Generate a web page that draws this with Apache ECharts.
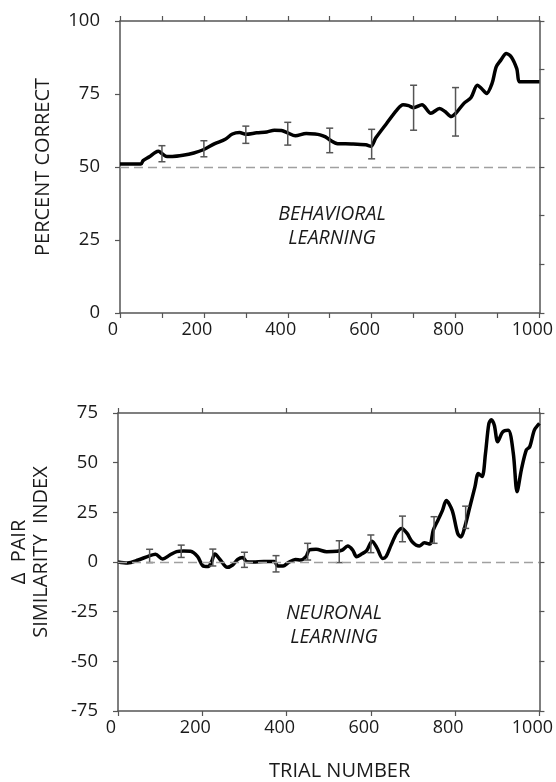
<!DOCTYPE html>
<html>
<head>
    <meta charset="UTF-8">
    <title>Behavioral and neuronal learning</title>
    <style>
        html, body { margin: 0; padding: 0; background: #fff; }
    </style>
</head>
<body>
<div id="main" style="width: 556px;height: 782px;"></div>
<script src="https://cdn.jsdelivr.net/npm/echarts@6/dist/echarts.min.js"></script>
<script>
    // behavioral learning curve (percent correct)
    var behavTrials = [0, 50, 55, 70, 84, 92, 100, 112, 125, 150, 176, 200, 226, 251, 268, 285, 300, 326, 350, 368,
        385, 400, 418, 444, 465, 477, 490, 500, 519, 552, 586, 598, 610, 636, 660, 675, 688, 700, 720, 741,
        762, 775, 790, 800, 820, 837, 852, 862, 874, 887, 897, 908, 921, 933, 946, 954, 1000];
    var behavValues = [51, 51, 52.2, 53.5, 55, 55.4, 54.6, 53.6, 53.6, 54, 54.8, 56, 58, 59.5, 61.3, 61.8, 61.2, 61.7, 62, 62.6,
        62.5, 61.7, 60.7, 61.5, 61.3, 61, 60.3, 59.3, 58, 57.9, 57.6, 57.1, 60, 65, 69.5, 71.3, 71, 70.3, 71.3, 68.4,
        70, 69, 67.3, 68.3, 71.8, 73.8, 78, 76.9, 75.2, 78.6, 84.3, 86.6, 88.9, 87.7, 83.7, 79.2, 79.2];
    var behavErrTrials = [100, 200, 300, 400, 500, 600, 700, 800];
    var behavErrLow = [51.8, 53.5, 58.1, 57.5, 54.9, 52.8, 62.6, 60.6];
    var behavErrHigh = [57.3, 59, 64, 65.3, 63.3, 62.9, 78, 77.2];

    // neuronal learning curve (delta pair similarity index)
    var neurTrials = [0, 23, 48, 73, 89, 106, 123, 139, 156, 172, 189, 201, 214, 222, 230, 243, 259, 272, 284, 296,
        305, 321, 346, 371, 379, 392, 404, 421, 433, 446, 454, 470, 495, 520, 532, 545, 557, 566, 578, 590,
        603, 615, 628, 636, 648, 661, 673, 686, 698, 715, 727, 740, 748, 760, 770, 779, 793, 806, 814, 822,
        835, 847, 855, 864, 872, 880, 886, 893, 901, 913, 926, 938, 947, 957, 969, 977, 988, 1000];
    var neurValues = [0, -0.5, 1, 3, 3.9, 1.5, 3.5, 5.2, 5.5, 5.4, 2.7, -1.8, -2.3, 0.2, 4, 1, -2.7, -1.5, 1.3, 2.3,
        0.2, 0, 0.3, 0.3, -2, -2, -0.3, 1.3, 1, 2.7, 6, 6.4, 5.2, 5.4, 6, 8, 6, 2.7, 4, 5.7,
        10.5, 6.9, 1.8, 2.7, 8.5, 14.4, 16.9, 14.4, 10.2, 8, 9.7, 9, 16, 21.4, 26, 30.9, 26, 14.4, 12.6, 16.9,
        27.8, 37.8, 44.5, 43, 54.6, 69.6, 71.6, 68.8, 60.5, 65.5, 66.3, 54.8, 35.4, 46.3, 56.4, 58, 66.4, 69.8];
    var neurErrTrials = [75, 150, 225, 300, 375, 450, 525, 600, 675, 750, 825];
    var neurErrLow = [-0.3, 2.3, -2, -2.7, -5, 1, -0.3, 4.7, 10.2, 9.4, 16.9];
    var neurErrHigh = [6.4, 8.5, 6.5, 4.9, 3.2, 9.4, 10.7, 13.6, 23.1, 22.8, 28.1];

    var xTickLabels = [0, 200, 400, 600, 800, 1000];

    var FONT = 'Open Sans';
    var AXIS_COLOR = '#555';
    var TEXT_COLOR = '#1a1a1a';

    function zip(a, b, c) {
        return a.map(function (v, i) { return c ? [v, b[i], c[i]] : [v, b[i]]; });
    }

    function errorBars(params, api) {
        var x = api.value(0);
        var lo = api.coord([x, api.value(1)]);
        var hi = api.coord([x, api.value(2)]);
        var cap = 3.5;
        var style = { stroke: '#555', lineWidth: 1.5 };
        return {
            type: 'group',
            children: [
                { type: 'line', shape: { x1: lo[0], y1: lo[1], x2: hi[0], y2: hi[1] }, style: style },
                { type: 'line', shape: { x1: lo[0] - cap, y1: lo[1], x2: lo[0] + cap, y2: lo[1] }, style: style },
                { type: 'line', shape: { x1: hi[0] - cap, y1: hi[1], x2: hi[0] + cap, y2: hi[1] }, style: style }
            ]
        };
    }

    function xAxisPair(grid, interval, withName) {
        var common = {
            type: 'value', gridIndex: grid, min: 0, max: 1000, interval: interval,
            axisLine: { onZero: false, lineStyle: { color: AXIS_COLOR, width: 1.5 } },
            axisTick: { length: 5, lineStyle: { color: AXIS_COLOR, width: 1.2 } },
            splitLine: { show: false }
        };
        var bottom = Object.assign({}, common, {
            position: 'bottom',
            axisLabel: {
                fontFamily: FONT, fontSize: 18, color: TEXT_COLOR, margin: 8,
                padding: [0, 14, 0, 0],
                formatter: function (v) { return xTickLabels.indexOf(v) >= 0 ? String(v) : ''; }
            }
        });
        if (withName) {
            bottom.name = 'TRIAL NUMBER';
            bottom.nameLocation = 'middle';
            bottom.nameGap = 50;
            bottom.nameTextStyle = { fontFamily: FONT, fontSize: 20, color: TEXT_COLOR, padding: [0, 0, 0, 22] };
        }
        var top = Object.assign({}, common, { position: 'top', axisLabel: { show: false } });
        return [bottom, top];
    }

    function yAxisPair(grid, min, max, interval, rightInterval, name, nameGap, namePad) {
        var common = {
            type: 'value', gridIndex: grid, min: min, max: max,
            axisLine: { show: true, onZero: false, lineStyle: { color: AXIS_COLOR, width: 1.5 } },
            axisTick: { show: true, length: 5, lineStyle: { color: AXIS_COLOR, width: 1.2 } },
            splitLine: { show: false }
        };
        var left = Object.assign({}, common, {
            position: 'left', interval: interval,
            name: name, nameLocation: 'middle', nameGap: nameGap, nameRotate: 90,
            nameTextStyle: { fontFamily: FONT, fontSize: 20, color: TEXT_COLOR, lineHeight: 22, padding: namePad },
            axisLabel: { fontFamily: FONT, fontSize: 18.5, color: TEXT_COLOR, margin: 20, padding: [0, 0, 8, 0] }
        });
        var right = Object.assign({}, common, {
            position: 'right', interval: rightInterval, axisLabel: { show: false }
        });
        return [left, right];
    }

    var chart = echarts.init(document.getElementById('main'));
    var xs = xAxisPair(0, 100, false).concat(xAxisPair(1, 200, true));
    var ys = yAxisPair(0, 0, 100, 25, 100 / 6, 'PERCENT CORRECT', 66, [0, 0, 0, 0])
        .concat(yAxisPair(1, -75, 75, 25, 25, '\u0394  PAIR\nSIMILARITY  INDEX', 66, [0, 0, 0, 20]));

    var dashed = {
        silent: true, symbol: 'none', label: { show: false },
        lineStyle: { type: [9, 5], color: '#a0a0a0', width: 1.3 }
    };

    var option = {
        backgroundColor: '#fff',
        animation: false,
        grid: [
            { left: 120, top: 21, width: 424, height: 292 },
            { left: 117, top: 413, width: 429, height: 298 }
        ],
        xAxis: xs,
        yAxis: ys,
        graphic: [
            {
                type: 'text',
                style: {
                    x: 332, y: 226, text: 'BEHAVIORAL\nLEARNING', textAlign: 'center', textVerticalAlign: 'middle',
                    font: 'italic 19.5px "Open Sans"', fill: TEXT_COLOR, lineHeight: 24
                }
            },
            {
                type: 'text',
                style: {
                    x: 334, y: 625, text: 'NEURONAL\nLEARNING', textAlign: 'center', textVerticalAlign: 'middle',
                    font: 'italic 19.5px "Open Sans"', fill: TEXT_COLOR, lineHeight: 24
                }
            }
        ],
        series: [
            {
                type: 'line', xAxisIndex: 0, yAxisIndex: 0, data: zip(behavTrials, behavValues),
                smooth: 0.3, symbol: 'none', lineStyle: { color: '#000', width: 3.5 },
                markLine: Object.assign({ data: [{ yAxis: 50 }] }, dashed), z: 3
            },
            {
                type: 'custom', xAxisIndex: 0, yAxisIndex: 0, renderItem: errorBars,
                encode: { x: 0, y: [1, 2] }, data: zip(behavErrTrials, behavErrLow, behavErrHigh), z: 4
            },
            {
                type: 'line', xAxisIndex: 2, yAxisIndex: 2, data: zip(neurTrials, neurValues),
                smooth: 0.3, symbol: 'none', lineStyle: { color: '#000', width: 3.5 },
                markLine: Object.assign({ data: [{ yAxis: 0 }] }, dashed), z: 3
            },
            {
                type: 'custom', xAxisIndex: 2, yAxisIndex: 2, renderItem: errorBars,
                encode: { x: 0, y: [1, 2] }, data: zip(neurErrTrials, neurErrLow, neurErrHigh), z: 4
            }
        ]
    };
    chart.setOption(option);
</script>
</body>
</html>
